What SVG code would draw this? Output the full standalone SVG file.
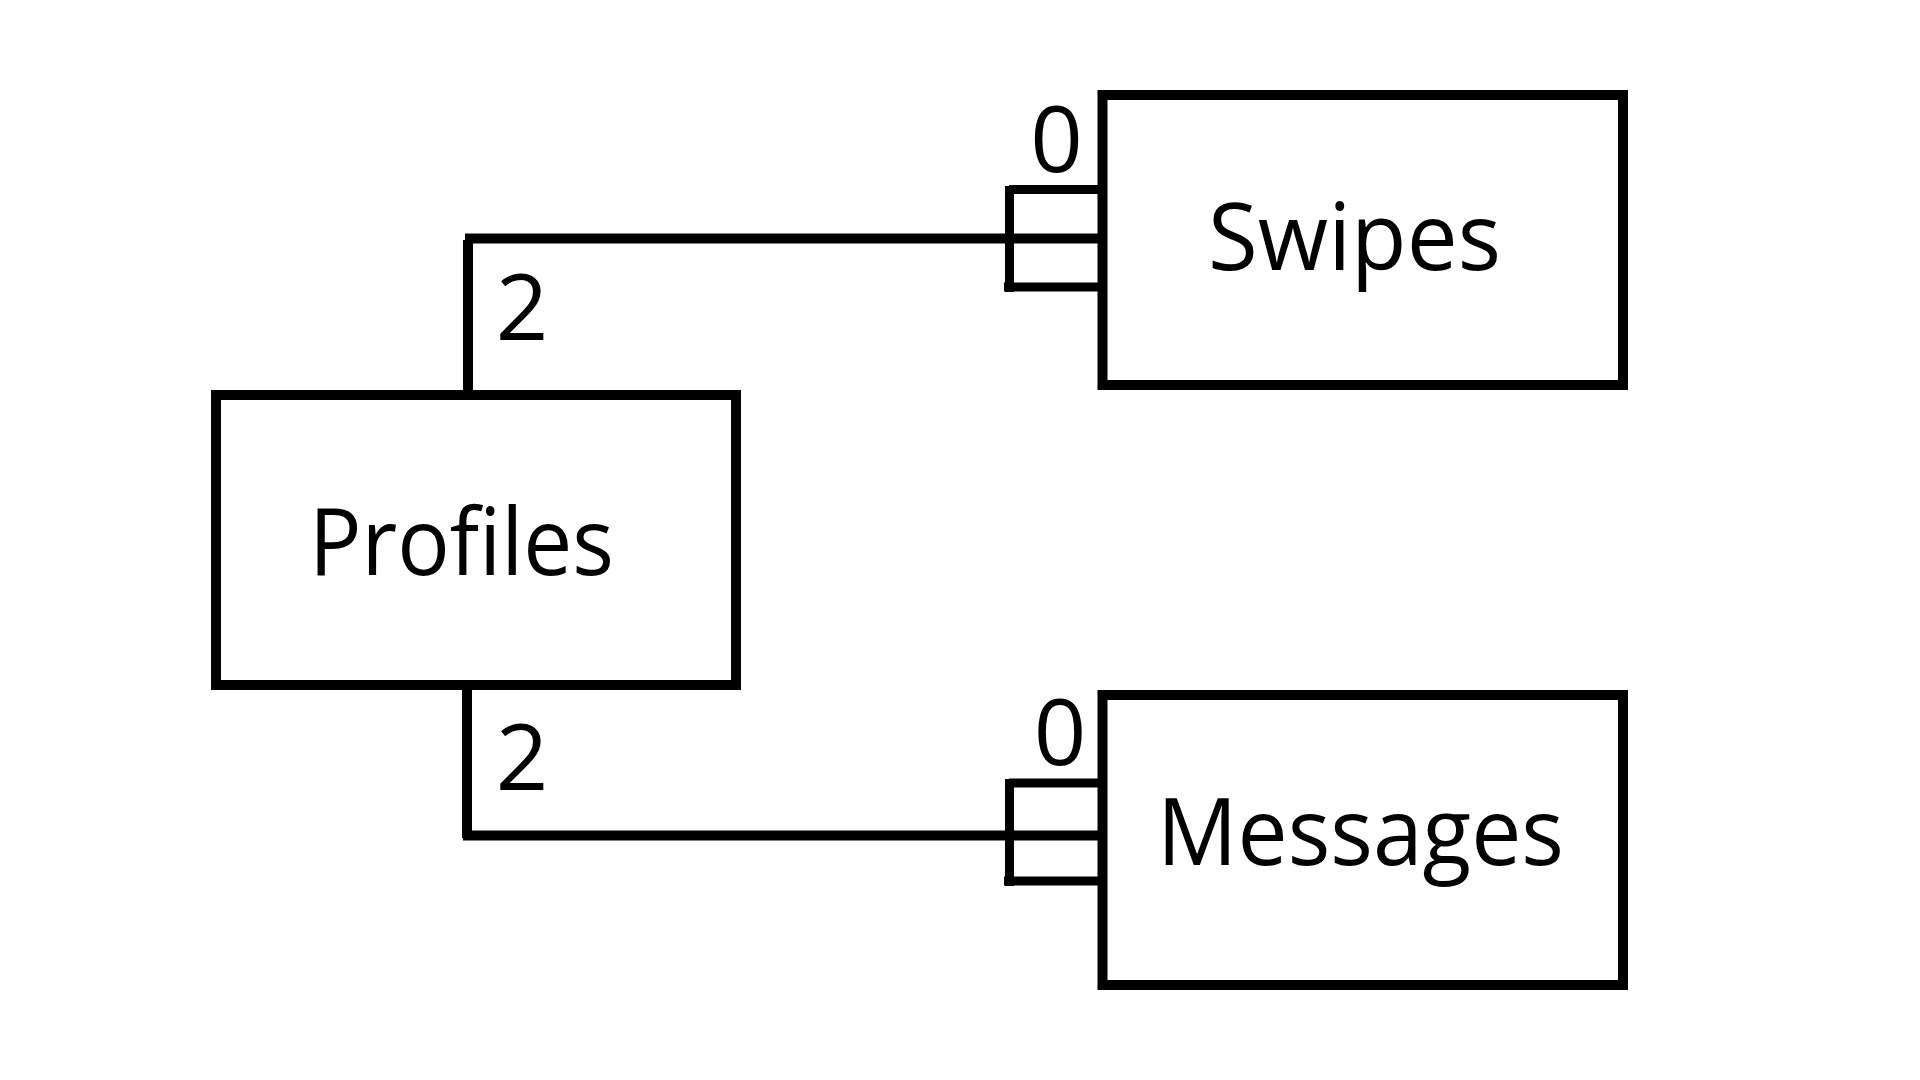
<svg xmlns="http://www.w3.org/2000/svg" width="1920" height="1080" viewBox="0 0 1920 1080">
<style>
.box{fill:#fff;stroke:#000;stroke-width:10}
.ln{stroke:#000;stroke-width:10;fill:none;stroke-linecap:butt}
.tk{stroke:#000;stroke-width:9;fill:none;stroke-linecap:butt}
.lbl{font-family:"Open Sans","Noto Sans",sans-serif;font-size:94px;fill:#000}
.num{font-family:"Open Sans","Noto Sans",sans-serif;font-size:92px;fill:#000;text-anchor:middle}
</style>
<rect width="1920" height="1080" fill="#fff"/>
<g id="connectors">
  <line class="ln" x1="465" y1="238.5" x2="1102" y2="238.5"/>
  <line class="ln" x1="468" y1="240" x2="468" y2="395"/>
  <line class="tk" x1="1009.5" y1="186" x2="1009.5" y2="292"/>
  <line class="tk" x1="1009" y1="189.5" x2="1102" y2="189.5"/>
  <line class="tk" x1="1004" y1="287" x2="1102" y2="287"/>
  <text class="num" x="1056.5" y="172">0</text>
  <text class="num" x="522" y="340">2</text>

  <line class="ln" x1="467" y1="685" x2="467" y2="838"/>
  <line class="ln" x1="463" y1="835.5" x2="1102" y2="835.5"/>
  <line class="tk" x1="1009.5" y1="779" x2="1009.5" y2="886"/>
  <line class="tk" x1="1009" y1="783" x2="1102" y2="783"/>
  <line class="tk" x1="1004" y1="881" x2="1102" y2="881"/>
  <text class="num" x="1060" y="765">0</text>
  <text class="num" x="522" y="790">2</text>
</g>
<g id="profiles">
  <rect class="box" x="216" y="395" width="520" height="290"/>
  <text class="lbl" x="309" y="575" textLength="305" lengthAdjust="spacingAndGlyphs">Profiles</text>
</g>
<g id="swipes">
  <rect class="box" x="1102.5" y="95" width="520.5" height="290"/>
  <text class="lbl" x="1208" y="270" textLength="293" lengthAdjust="spacingAndGlyphs">Swipes</text>
</g>
<g id="messages">
  <rect class="box" x="1102.5" y="695" width="520.5" height="290"/>
  <text class="lbl" x="1157" y="865" textLength="407" lengthAdjust="spacingAndGlyphs">Messages</text>
</g>
</svg>
